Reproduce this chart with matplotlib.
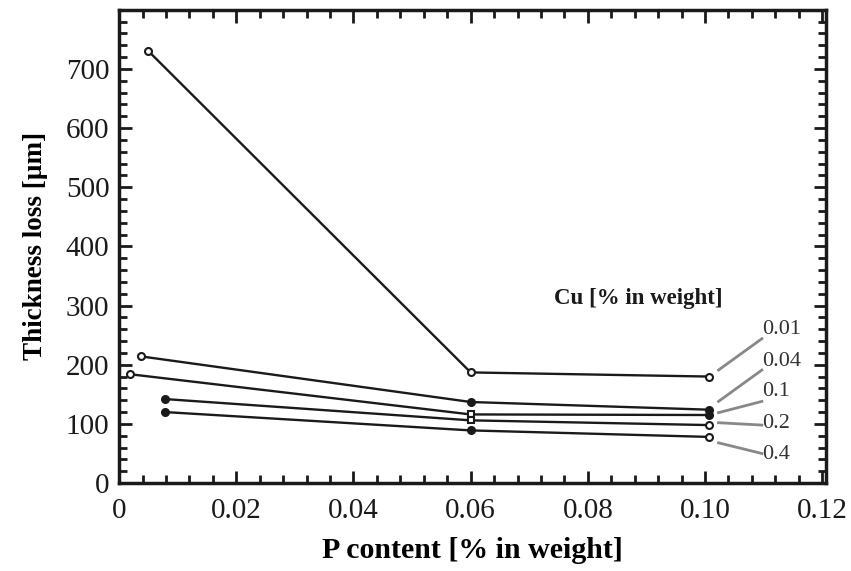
import numpy as np
import matplotlib.pyplot as plt
from matplotlib.ticker import MultipleLocator

plt.rcParams['font.family'] = ['Liberation Serif', 'DejaVu Serif']

# Cu content of each series [% in weight]
cu_labels = ['0.01', '0.04', '0.1', '0.2', '0.4']

# P content [% in weight] for each point of each series
p_cu001 = [0.0049, 0.0600, 0.1007]
p_cu004 = [0.0038, 0.0600, 0.1007]
p_cu01  = [0.0018, 0.0600, 0.1007]
p_cu02  = [0.0078, 0.0600, 0.1007]
p_cu04  = [0.0078, 0.0600, 0.1007]

# thickness loss [um]
loss_cu001 = [731, 187, 180]
loss_cu004 = [214, 137, 124]
loss_cu01  = [184, 116, 115]
loss_cu02  = [142, 106, 98]
loss_cu04  = [120, 89, 78]

# label positions (y value of the text) and leader lines
label_y   = [259, 206, 155, 101, 49]
leader_y0 = [191, 138, 119, 102, 68]
leader_y1 = [244, 191, 138, 98, 50]

# marker fill per point: True = filled, False = open
fill_cu001 = [False, False, False]
fill_cu004 = [False, True, True]
fill_cu01  = [False, False, True]
fill_cu02  = [True, False, False]
fill_cu04  = [True, True, False]
mark_cu01  = ['o', 's', 'o']
mark_cu02  = ['o', 's', 'o']


def draw_series(ax, xs, ys, fills, marks=None):
    ax.plot(xs, ys, color='#1a1a1a', lw=1.7, zorder=3)
    for i in range(len(xs)):
        m = marks[i] if marks else 'o'
        face = '#1a1a1a' if fills[i] else 'white'
        ax.plot(xs[i], ys[i], marker=m, ms=5, mfc=face, mec='#1a1a1a',
                mew=1.5, zorder=4)


def main():
    fig = plt.figure(figsize=(8.51, 5.71), dpi=100)
    ax = fig.add_axes([0.140, 0.154, 0.831, 0.829])

    draw_series(ax, p_cu001, loss_cu001, fill_cu001)
    draw_series(ax, p_cu004, loss_cu004, fill_cu004)
    draw_series(ax, p_cu01, loss_cu01, fill_cu01, mark_cu01)
    draw_series(ax, p_cu02, loss_cu02, fill_cu02, mark_cu02)
    draw_series(ax, p_cu04, loss_cu04, fill_cu04)

    for i in range(len(cu_labels)):
        ax.plot([0.1023, 0.1097], [leader_y0[i], leader_y1[i]],
                color='#888888', lw=2, zorder=2)
        ax.text(0.1098, label_y[i], cu_labels[i], fontsize=16,
                va='center', ha='left', color='#333333')

    ax.text(0.0742, 312, 'Cu [% in weight]', fontsize=16.5, fontweight='bold',
            va='center', ha='left', color='#1a1a1a')

    ax.set_xlim(0, 0.1207)
    ax.set_ylim(0, 800)
    ax.xaxis.set_minor_locator(MultipleLocator(0.004))
    ax.yaxis.set_minor_locator(MultipleLocator(20))
    ax.set_yticks(np.arange(0, 800, 100))
    ax.set_xticks([0, 0.02, 0.04, 0.06, 0.08, 0.10, 0.12])
    ax.set_xticklabels(['0', '0.02', '0.04', '0.06', '0.08', '0.10', '0.12'])

    ax.tick_params(which='both', direction='in', top=True, right=True,
                   width=2, colors='#1a1a1a', labelsize=21)
    ax.tick_params(which='major', length=9)
    ax.tick_params(which='minor', length=6)
    ax.tick_params(axis='x', pad=11)
    ax.tick_params(axis='y', pad=7)
    for s in ax.spines.values():
        s.set_linewidth(2.5)
        s.set_color('#1a1a1a')

    ax.set_xlabel('P content [% in weight]', fontsize=21.5, fontweight='bold',
                  labelpad=9)
    ax.set_ylabel('Thickness loss [µm]', fontsize=19.5, fontweight='bold',
                  labelpad=13)

    fig.savefig('out.png', dpi=100)


if __name__ == "__main__":
    main()
